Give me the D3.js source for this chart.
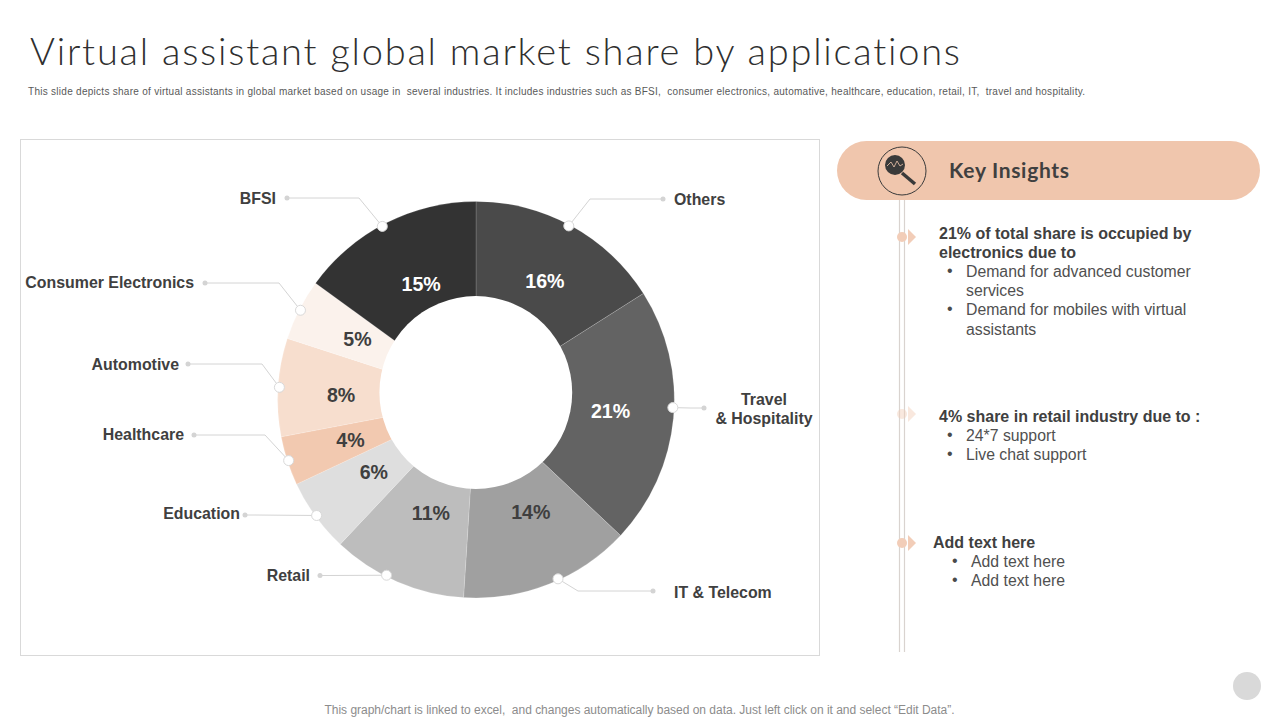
<!DOCTYPE html>
<html><head><meta charset="utf-8">
<script src="https://cdn.jsdelivr.net/npm/d3@7"></script>
<style>html,body{margin:0;background:#fff}svg{display:block}text{font-family:"Liberation Sans",Arial,sans-serif}</style>
</head><body><svg id="c" width="1280" height="720"></svg>
<script>
const categories=["Others","Travel & Hospitality","IT & Telecom","Retail","Education","Healthcare","Automotive","Consumer Electronics","BFSI"];
const shares=[16,21,14,11,6,4,8,5,15];
const sliceColors=["#4a4a4a","#636363","#a0a0a0","#bdbdbd","#dedede","#f2c9b0","#f7dece","#fbf2ec","#333333"];
const valueColors=["#fff","#fff","#3f3f3f","#3f3f3f","#3f3f3f","#3f3f3f","#3f3f3f","#3f3f3f","#fff"];
const title="Virtual assistant global market share by applications";
const subtitle="This slide depicts share of virtual assistants in global market based on usage in  several industries. It includes industries such as BFSI,  consumer electronics, automative, healthcare, education, retail, IT,  travel and hospitality.";
const footer="This graph/chart is linked to excel,  and changes automatically based on data. Just left click on it and select \u201cEdit Data\u201d.";
const insightHeader="Key Insights";
const insights=[
 {mark:237,op:1,x:939,head:["21% of total share is occupied by","electronics due to"],bx:947,tx:966,items:["Demand for advanced customer","*services","Demand for mobiles with virtual","*assistants"],y:233},
 {mark:414,op:.45,x:939,head:["4% share in retail industry due to :"],bx:947,tx:966,items:["24*7 support","Live chat support"],y:416},
 {mark:543,op:1,x:933,head:["Add text here"],bx:952,tx:971,items:["Add text here","Add text here"],y:542}
];
const layout=[
 {lx:674,ly:[199],a:"start",dot:[663,199],elbow:[590,199],off:-0.7,r:137,va:30.2},
 {lx:764,ly:[399,418],a:"middle",dot:[704,408],elbow:[690,408],off:-3.1,r:135,va:95},
 {lx:674,ly:[592],a:"start",dot:[653,591],elbow:[578,591],off:-3,r:125,va:154},
 {lx:310,ly:[575],a:"end",dot:[320,575.5],elbow:[330,575.5],off:3.6,r:122,va:201.7},
 {lx:240,ly:[513],a:"end",dot:[245,515],elbow:[255,515],off:0,r:125,va:234.8},
 {lx:184,ly:[434],a:"end",dot:[194,435],elbow:[265,435],off:0,r:132,va:252},
 {lx:179,ly:[364],a:"end",dot:[188,364],elbow:[262,364],off:0,r:135,va:272},
 {lx:194,ly:[282],a:"end",dot:[205,283],elbow:[279,283],off:0,r:133,va:297},
 {lx:276,ly:[198],a:"end",dot:[287,198],elbow:[359,198],off:-1.4,r:128,va:334.6}
];
const labelLines=[["Others"],["Travel","& Hospitality"],["IT & Telecom"],["Retail"],["Education"],["Healthcare"],["Automotive"],["Consumer Electronics"],["BFSI"]];
const cx=476,cy=399.7,R=198.3,holeX=475.8,holeY=392.5,holeR=96.4;
const svg=d3.select("#c");
svg.append("rect").attr("width",1280).attr("height",720).attr("fill","#fff");

svg.append("text").attr("x",30).attr("y",65).attr("font-size",38).attr("font-weight",300).attr("fill","#2f2f2f")
  .style("font-family","Lato").style("font-variant-ligatures","none").attr("textLength",930).attr("lengthAdjust","spacing").text(title);
svg.append("text").attr("x",28).attr("y",95).attr("font-size",10).attr("fill","#595959")
  .attr("textLength",1057).attr("lengthAdjust","spacing").style("white-space","pre").text(subtitle);
svg.append("text").attr("x",639.5).attr("y",714).attr("text-anchor","middle").attr("font-size",12).attr("fill","#8c8c8c")
  .attr("textLength",630).attr("lengthAdjust","spacing").style("white-space","pre").text(footer);

svg.append("rect").attr("x",20.5).attr("y",139.5).attr("width",799).attr("height",516)
  .attr("fill","#fff").attr("stroke","#d9d9d9");

// donut: a full pie with an off-centre white hole, as in the reference
const pie=d3.pie().sort(null).value(d=>d)(shares);
const arc=d3.arc().innerRadius(0).outerRadius(R);
const g=svg.append("g").attr("transform",`translate(${cx},${cy})`);
g.selectAll("path").data(pie).join("path").attr("d",arc)
  .attr("fill",(d,i)=>sliceColors[i]).attr("stroke","#fff").attr("stroke-opacity",.25).attr("stroke-width",.6);
svg.append("circle").attr("cx",holeX).attr("cy",holeY).attr("r",holeR).attr("fill","#fff");
const polar=(deg,r)=>{const t=deg*Math.PI/180;return [cx+r*Math.sin(t),cy-r*Math.cos(t)]};
const midDeg=d=>(d.startAngle+d.endAngle)/2*180/Math.PI;

// leaders
pie.forEach((d,i)=>{
  const l=layout[i],m=polar(midDeg(d)+l.off,R-1.3);
  svg.append("path").attr("d",d3.line()([l.dot,l.elbow,m])).attr("fill","none").attr("stroke","#d4d4d4").attr("stroke-width",1);
  svg.append("circle").attr("cx",l.dot[0]).attr("cy",l.dot[1]).attr("r",2.5).attr("fill","#d4d4d4");
  svg.append("circle").attr("cx",m[0]).attr("cy",m[1]).attr("r",5).attr("fill","#fff").attr("stroke","#d9d9d9").attr("stroke-width",1);
  labelLines[i].forEach((t,k)=>svg.append("text").attr("x",l.lx).attr("y",l.ly[k]+6).attr("text-anchor",l.a)
    .attr("font-size",15.9).attr("font-weight",700).attr("fill","#404040").text(t));
  const v=polar(l.va,l.r);
  svg.append("text").attr("x",v[0]).attr("y",v[1]+7).attr("text-anchor","middle").attr("font-size",19.6).attr("font-weight",700)
    .attr("fill",valueColors[i]).text(shares[i]+"%");
});

// insights panel
svg.append("rect").attr("x",837).attr("y",141).attr("width",423).attr("height",59).attr("rx",29.5).attr("fill","#f0c6ad");
[899.5,904.5].forEach(x=>svg.append("line").attr("x1",x).attr("x2",x).attr("y1",200).attr("y2",652).attr("stroke","#d9d3cf").attr("stroke-width",1.2));
svg.append("circle").attr("cx",902).attr("cy",171).attr("r",24).attr("fill","none").attr("stroke","#3a3a3a").attr("stroke-width",1);
svg.append("circle").attr("cx",895).attr("cy",165).attr("r",10).attr("fill","#3a3a3a");
svg.append("line").attr("x1",902).attr("y1",173).attr("x2",915).attr("y2",184).attr("stroke","#3a3a3a").attr("stroke-width",3.5);
svg.append("path").attr("d","M887 166L891 162L894 167L897 161L900 166L903 164").attr("fill","none").attr("stroke","#f0c6ad").attr("stroke-width",.8);
svg.append("text").attr("x",949).attr("y",178).attr("font-size",21).attr("font-weight",700).attr("fill","#404040").style("font-family","Lato").attr("textLength",120).text(insightHeader);

insights.forEach(b=>{
  const m=svg.append("g").attr("opacity",b.op);
  m.append("circle").attr("cx",902).attr("cy",b.mark).attr("r",5).attr("fill","#f2cdb8");
  m.append("path").attr("d",`M908 ${b.mark-8}L916 ${b.mark}L908 ${b.mark+8}Z`).attr("fill","#f2cdb8");
  let y=b.y+5;
  b.head.forEach(t=>{svg.append("text").attr("x",b.x).attr("y",y+1).attr("font-size",16).attr("font-weight",700).attr("fill","#404040").text(t);y+=19});
  b.items.forEach(t=>{
    const cont=t[0]==="*";
    if(!cont)svg.append("text").attr("x",b.bx).attr("y",y).attr("font-size",16).attr("fill","#4a4a4a").text("\u2022");
    svg.append("text").attr("x",b.tx).attr("y",y+1).attr("font-size",15.8).attr("fill","#505050").text(cont?t.slice(1):t);
    y+=19.2;
  });
});
svg.append("circle").attr("cx",1247).attr("cy",686).attr("r",14).attr("fill","#d9d9d9");
</script>
</body></html>
